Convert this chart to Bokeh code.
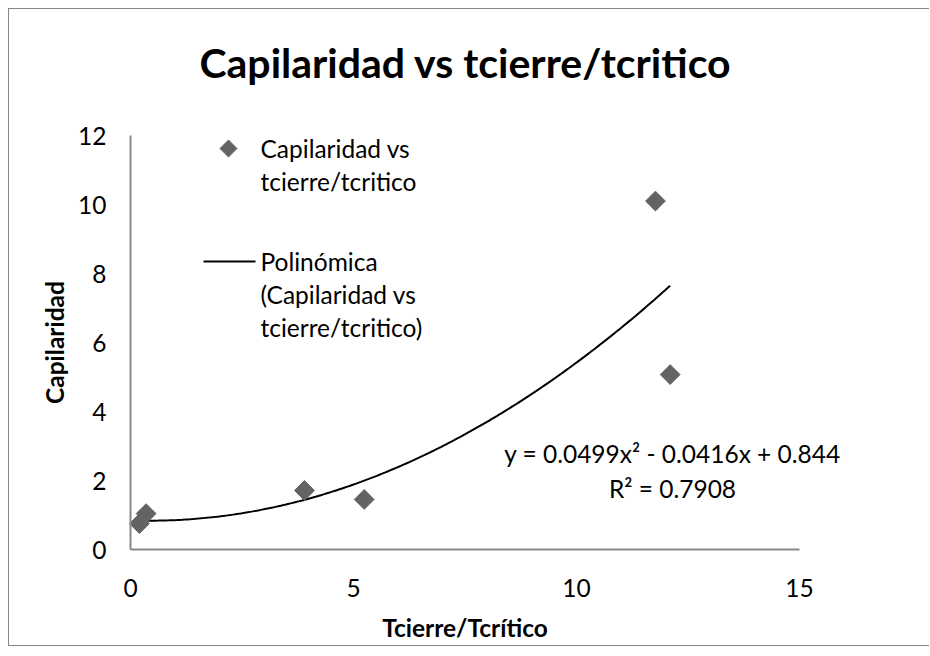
import numpy as np
from bokeh.plotting import figure
from bokeh.models import Range1d, FixedTicker, Label
from bokeh.embed import file_html
from bokeh.resources import INLINE

# ---- data ----
tcierre_tcritico = [0.2, 0.35, 3.9, 5.24, 11.77, 12.1]
capilaridad = [0.75, 1.04, 1.71, 1.45, 10.1, 5.07]
poly_coef = [0.0499, -0.0416, 0.844]   # a*x^2 + b*x + c  (Excel trendline)
r_squared = 0.7908
x_ticks = [0, 5, 10, 15]
y_ticks = [0, 2, 4, 6, 8, 10, 12]
x_axis_range = (0, 15)
y_axis_range = (0, 12)

title_text = "Capilaridad vs tcierre/tcritico"
x_title = "Tcierre/Tcrítico"
y_title = "Capilaridad"
series_lines = ["Capilaridad vs", "tcierre/tcritico"]
trend_lines = ["Polinómica", "(Capilaridad vs", "tcierre/tcritico)"]

FONT = "Lato"
FS = "24.5px"
GRAY_AXIS = "#878787"
MARKER = "#636363"

# ---- layout (page pixels) ----
W, H = 921, 638            # canvas (plus 1px css border, 8px margin)
CANVAS_X0, CANVAS_Y0 = 9, 9
AX_LEFT, AX_RIGHT = 130, 799   # page px of x = 0 and x = 15
AX_BOTTOM, AX_TOP = 549, 135   # page px of y = 0 and y = 12

px_per_x = (AX_RIGHT - AX_LEFT) / (x_axis_range[1] - x_axis_range[0])
px_per_y = (AX_BOTTOM - AX_TOP) / (y_axis_range[1] - y_axis_range[0])


def dx(px):
    return x_axis_range[0] + (px - AX_LEFT) / px_per_x


def dy(py):
    return y_axis_range[0] + (AX_BOTTOM - py) / px_per_y


# the frame covers the whole canvas; the axes sit at fixed locations inside it
p = figure(width=W, height=H, output_backend="svg", toolbar_location=None,
           x_range=Range1d(dx(CANVAS_X0), dx(CANVAS_X0 + W)),
           y_range=Range1d(dy(CANVAS_Y0 + H), dy(CANVAS_Y0)),
           min_border_left=0, min_border_right=0,
           min_border_top=0, min_border_bottom=0)
p.margin = (8, 0, 0, 8)
p.styles = {"border-top": f"1px solid {GRAY_AXIS}",
            "border-left": f"1px solid {GRAY_AXIS}",
            "border-bottom": f"1px solid {GRAY_AXIS}"}
p.title_location = None
p.outline_line_color = None
p.xgrid.grid_line_color = None
p.ygrid.grid_line_color = None
p.background_fill_color = "white"
p.border_fill_color = "white"

for ax in (p.xaxis[0], p.yaxis[0]):
    ax.axis_line_color = GRAY_AXIS
    ax.axis_line_width = 2
    ax.major_tick_line_color = None
    ax.minor_tick_line_color = None
    ax.major_label_text_font = FONT
    ax.major_label_text_font_size = FS
    ax.major_label_text_color = "black"

p.xaxis.fixed_location = y_axis_range[0]
p.yaxis.fixed_location = x_axis_range[0]
p.xaxis.bounds = x_axis_range
p.yaxis.bounds = y_axis_range
p.xaxis.ticker = FixedTicker(ticks=x_ticks)
p.yaxis.ticker = FixedTicker(ticks=y_ticks)
p.xaxis.major_label_standoff = 23
p.yaxis.major_label_standoff = 18

# trendline from the polynomial coefficients over the data's x span
xs = np.linspace(min(tcierre_tcritico), max(tcierre_tcritico), 200)
ys = np.polyval(poly_coef, xs)
p.line(xs, ys, line_color="black", line_width=2)

p.scatter(tcierre_tcritico, capilaridad, marker="square", size=14,
          angle=np.pi / 4, fill_color=MARKER, line_color=MARKER)

# ---- legend (Excel style: no box, glyph beside first line) ----
p.scatter([dx(228)], [dy(148)], marker="square", size=12, angle=np.pi / 4,
          fill_color=MARKER, line_color=MARKER)
p.line([dx(203), dx(255)], [dy(261), dy(261)], line_color="black", line_width=2)


def text_label(px, py, text, size=FS, align="left", style="normal", angle=0.0):
    p.add_layout(Label(x=dx(px), y=dy(py), text=text, text_align=align,
                       text_baseline="middle", text_font=FONT,
                       text_font_size=size, text_font_style=style,
                       text_color="black", angle=angle))


for i, t in enumerate(series_lines):
    text_label(260, 148 + 32.5 * i, t)
for i, t in enumerate(trend_lines):
    text_label(260, 261 + 33 * i, t)

# title
text_label(465, 62, title_text, size="41px", align="center", style="bold")

# axis titles, centred on the axis lines
text_label((AX_LEFT + AX_RIGHT) / 2, 627, x_title, align="center", style="bold")
text_label(54, (AX_TOP + AX_BOTTOM) / 2, y_title, align="center", style="bold",
           angle=np.pi / 2)

# trendline equation and R²
a, b, c = poly_coef
text_label(672, 453, f"y = {a}x² - {abs(b)}x + {c}", align="center")
text_label(672, 488, f"R² = {r_squared}", align="center")

open("out.html", "w").write(file_html(p, INLINE))
